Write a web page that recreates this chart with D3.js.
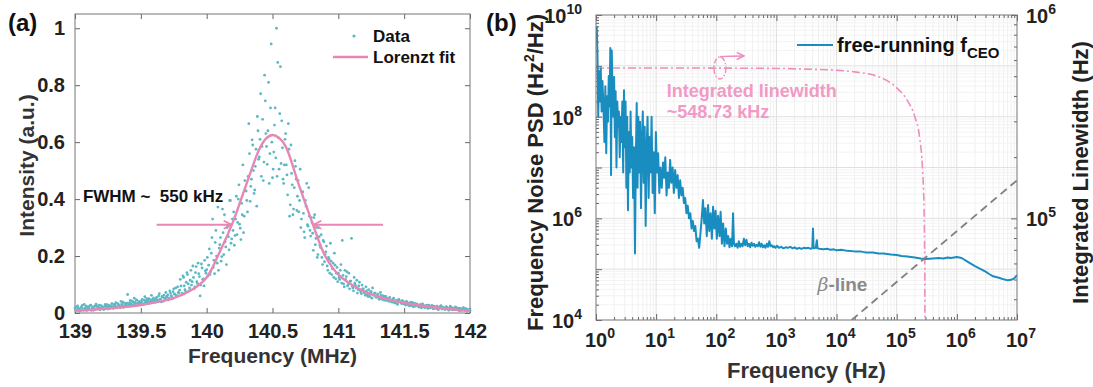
<!DOCTYPE html>
<html>
<head>
<meta charset="utf-8">
<script src="https://cdn.jsdelivr.net/npm/d3@7"></script>
<style>
	body { margin: 0; background: #fff; }
	svg { font-family: "Liberation Sans", Arial, sans-serif; font-weight: bold; }
	.axis path { display: none; }
	.axis line { stroke: #666; }
	.axis text { fill: #222; font-size: 20px; font-weight: bold; font-family: "Liberation Sans", Arial, sans-serif; }
</style>
</head>
<body>
<svg id="chart" width="1093" height="387"></svg>
<script>
// ---------- panel (a): beat note spectrum ----------
// two interleaved sweeps: x = start + i * step
const scatterStep = 0.01;
const scatterStart = 139;
const scatterY = [
	0.018, 0.010, 0.025, 0.014, 0.008, 0.020, 0.012, 0.030, 0.016, 0.009,
	0.022, 0.013, 0.028, 0.017, 0.010, 0.024, 0.031, 0.015, 0.020, 0.011,
	0.026, 0.018, 0.012, 0.030, 0.021, 0.014, 0.027, 0.019, 0.033, 0.016,
	0.024, 0.036, 0.018, 0.029, 0.022, 0.041, 0.027, 0.020, 0.034, 0.025,
	0.065, 0.030, 0.044, 0.026, 0.038, 0.052, 0.033, 0.045, 0.028, 0.040,
	0.035, 0.048, 0.031, 0.057, 0.042, 0.036, 0.050, 0.039, 0.062, 0.044,
	0.047, 0.038, 0.055, 0.043, 0.068, 0.049, 0.058, 0.041, 0.052, 0.072,
	0.056, 0.046, 0.078, 0.061, 0.050, 0.085, 0.066, 0.058, 0.092, 0.070,
	0.118, 0.064, 0.130, 0.095, 0.075, 0.142, 0.102, 0.088, 0.150, 0.110,
	0.125, 0.092, 0.163, 0.104, 0.138, 0.060, 0.172, 0.118, 0.095, 0.148,
	0.152, 0.130, 0.225, 0.145, 0.265, 0.160, 0.138, 0.290, 0.175, 0.150,
	0.240, 0.182, 0.365, 0.205, 0.250, 0.170, 0.305, 0.222, 0.395, 0.260,
	0.290, 0.238, 0.330, 0.275, 0.400, 0.312, 0.258, 0.345, 0.282, 0.465,
	0.428, 0.355, 0.665, 0.392, 0.470, 0.590, 0.420, 0.515, 0.375, 0.640,
	0.548, 0.770, 0.585, 0.465, 0.835, 0.630, 0.522, 0.810, 0.560, 0.945,
	0.475, 0.565, 0.720, 1.000, 0.880, 0.505, 0.865, 0.675, 0.470, 0.520,
	0.630, 0.485, 0.665, 0.340, 0.590, 0.450, 0.365, 0.535, 0.470, 0.410,
	0.355, 0.505, 0.330, 0.425, 0.285, 0.395, 0.455, 0.305, 0.340, 0.270,
	0.318, 0.220, 0.345, 0.262, 0.195, 0.300, 0.238, 0.275, 0.170, 0.250,
	0.205, 0.235, 0.150, 0.188, 0.245, 0.135, 0.175, 0.210, 0.120, 0.160,
	0.140, 0.118, 0.170, 0.255, 0.102, 0.150, 0.128, 0.095, 0.140, 0.112,
	0.262, 0.088, 0.125, 0.098, 0.115, 0.082, 0.108, 0.075, 0.098, 0.085,
	0.070, 0.092, 0.065, 0.082, 0.058, 0.075, 0.088, 0.062, 0.070, 0.055,
	0.066, 0.048, 0.072, 0.052, 0.060, 0.045, 0.058, 0.050, 0.042, 0.055,
	0.046, 0.038, 0.052, 0.035, 0.044, 0.030, 0.048, 0.040, 0.033, 0.042,
	0.036, 0.028, 0.040, 0.032, 0.025, 0.038, 0.030, 0.022, 0.034, 0.027,
	0.030, 0.021, 0.026, 0.018, 0.032, 0.024, 0.020, 0.028, 0.016, 0.025,
	0.020, 0.027, 0.015, 0.022, 0.018, 0.024, 0.012, 0.020, 0.026, 0.014,
	0.019, 0.012, 0.022, 0.016, 0.010, 0.024, 0.014, 0.018, 0.011, 0.021,
	0.013, 0.017, 0.008, 0.015, 0.011, 0.019, 0.009, 0.014, 0.007, 0.012,
	0.010
];
const scatterStart2 = 139.005;
const scatterY2 = [
	0.012, 0.022, 0.015, 0.006, 0.019, 0.027, 0.011, 0.017, 0.024, 0.014,
	0.018, 0.026, 0.009, 0.021, 0.016, 0.013, 0.025, 0.019, 0.028, 0.017,
	0.020, 0.014, 0.024, 0.017, 0.029, 0.022, 0.016, 0.025, 0.021, 0.030,
	0.028, 0.021, 0.033, 0.026, 0.019, 0.031, 0.038, 0.024, 0.029, 0.035,
	0.027, 0.036, 0.031, 0.042, 0.029, 0.037, 0.046, 0.034, 0.039, 0.031,
	0.041, 0.033, 0.045, 0.038, 0.050, 0.043, 0.034, 0.047, 0.040, 0.053,
	0.042, 0.051, 0.045, 0.060, 0.048, 0.039, 0.056, 0.063, 0.050, 0.058,
	0.064, 0.052, 0.070, 0.058, 0.075, 0.066, 0.088, 0.061, 0.072, 0.080,
	0.095, 0.070, 0.125, 0.082, 0.108, 0.135, 0.078, 0.115, 0.098, 0.165,
	0.085, 0.142, 0.110, 0.175, 0.128, 0.098, 0.158, 0.120, 0.185, 0.140,
	0.195, 0.168, 0.135, 0.210, 0.330, 0.185, 0.248, 0.200, 0.372, 0.228,
	0.265, 0.198, 0.282, 0.345, 0.232, 0.300, 0.268, 0.395, 0.245, 0.330,
	0.355, 0.272, 0.410, 0.318, 0.450, 0.298, 0.385, 0.520, 0.340, 0.430,
	0.395, 0.480, 0.560, 0.445, 0.608, 0.500, 0.432, 0.575, 0.690, 0.540,
	0.610, 0.480, 0.680, 0.530, 0.745, 0.585, 0.640, 0.455, 0.720, 0.600,
	0.505, 0.660, 0.545, 0.480, 0.615, 0.700, 0.525, 0.580, 0.455, 0.610,
	0.520, 0.415, 0.575, 0.380, 0.490, 0.345, 0.440, 0.515, 0.360, 0.465,
	0.395, 0.300, 0.425, 0.350, 0.265, 0.375, 0.310, 0.440, 0.290, 0.335,
	0.280, 0.335, 0.240, 0.300, 0.205, 0.268, 0.230, 0.195, 0.255, 0.180,
	0.215, 0.165, 0.195, 0.140, 0.182, 0.155, 0.125, 0.168, 0.140, 0.110,
	0.125, 0.150, 0.105, 0.132, 0.092, 0.118, 0.145, 0.100, 0.085, 0.112,
	0.095, 0.078, 0.105, 0.088, 0.070, 0.095, 0.080, 0.068, 0.085, 0.072,
	0.062, 0.078, 0.058, 0.068, 0.075, 0.052, 0.064, 0.070, 0.056, 0.061,
	0.056, 0.050, 0.062, 0.047, 0.053, 0.058, 0.044, 0.051, 0.046, 0.040,
	0.043, 0.048, 0.037, 0.041, 0.034, 0.045, 0.039, 0.036, 0.043, 0.032,
	0.034, 0.040, 0.029, 0.035, 0.031, 0.026, 0.036, 0.030, 0.024, 0.032,
	0.027, 0.023, 0.030, 0.021, 0.027, 0.019, 0.025, 0.022, 0.028, 0.018,
	0.022, 0.018, 0.024, 0.016, 0.021, 0.013, 0.019, 0.023, 0.015, 0.020,
	0.017, 0.014, 0.020, 0.012, 0.016, 0.019, 0.011, 0.015, 0.013, 0.018,
	0.014, 0.010, 0.016, 0.009, 0.013, 0.011, 0.015, 0.008, 0.012, 0.010
];
const fitFreq = [139, 139.25, 139.5, 139.75, 139.9, 140, 140.1, 140.2, 140.3, 140.4, 140.45, 140.5,
	140.55, 140.6, 140.7, 140.8, 140.9, 141, 141.1, 141.2, 141.4, 141.6, 141.8, 142];
const fitVal = [0.008, 0.016, 0.028, 0.052, 0.085, 0.125, 0.215, 0.32, 0.45, 0.575, 0.612, 0.625,
	0.615, 0.585, 0.45, 0.32, 0.2, 0.135, 0.1, 0.075, 0.045, 0.028, 0.016, 0.008];
const xTicksA = [139, 139.5, 140, 140.5, 141, 141.5, 142];
const yTicksA = [0, 0.2, 0.4, 0.6, 0.8, 1];

// ---------- panel (b): frequency noise PSD ----------
// [frequency (Hz), log10 of PSD (Hz^2/Hz)]
const psdCurve = [
	[1.00, 9.55], [1.03, 9.77], [1.06, 9.2], [1.09, 8.0], [1.12, 8.9], [1.16, 8.3], [1.20, 8.95],
	[1.24, 8.1], [1.28, 8.7], [1.33, 8.2], [1.38, 7.5], [1.43, 8.6], [1.48, 7.28], [1.53, 8.4],
	[1.58, 7.9], [1.63, 8.8], [1.68, 8.2], [1.73, 9.35], [1.78, 6.85], [1.83, 9.3], [1.88, 8.5],
	[1.94, 8.0], [2.00, 8.78], [2.06, 7.6], [2.12, 8.5], [2.19, 7.0], [2.26, 8.3], [2.33, 7.8],
	[2.40, 8.1], [2.48, 7.2], [2.56, 8.0], [2.65, 7.5], [2.74, 8.3], [2.83, 6.9], [2.92, 8.52],
	[3.01, 7.4], [3.10, 8.3], [3.20, 6.6], [3.30, 8.0], [3.40, 6.16], [3.52, 7.7], [3.64, 6.9],
	[3.76, 8.1], [3.88, 7.0], [4.00, 7.6], [4.14, 6.4], [4.28, 7.4], [4.45, 5.31], [4.60, 7.2],
	[4.75, 8.27], [4.90, 6.6], [5.05, 8.0], [5.20, 6.9], [5.40, 7.9], [5.60, 6.2], [5.80, 7.5],
	[6.00, 8.1], [6.20, 6.7], [6.45, 7.8], [6.70, 5.85], [6.95, 7.4], [7.20, 8.0], [7.50, 6.4],
	[7.80, 7.6], [8.10, 6.9], [8.40, 8.0], [8.75, 6.5], [9.10, 7.3], [9.50, 6.1], [9.90, 7.7],
	[10.3, 6.9], [10.8, 7.28], [11.3, 6.5], [11.8, 7.0], [12.4, 6.6], [13.0, 7.1], [13.6, 6.8],
	[14.2, 7.2], [14.9, 6.45], [15.6, 6.9], [16.3, 6.6], [17.1, 7.15], [17.9, 6.7], [18.8, 7.0],
	[19.7, 6.5], [20.7, 6.95], [21.7, 6.6], [22.8, 6.85], [23.9, 6.4], [25.1, 6.75], [26.3, 6.45],
	[27.6, 6.6], [29.0, 6.3], [30.4, 6.4], [31.9, 6.1], [33.5, 6.25], [35.2, 6.0], [37.0, 6.1],
	[38.8, 5.8], [40.7, 5.95], [42.7, 5.75], [44.8, 5.85], [47.0, 5.55], [49.4, 5.6], [51.9, 5.42],
	[54.5, 5.7], [57.2, 6.0], [60.0, 6.36], [63.0, 5.9], [66.0, 6.2], [69.5, 5.65], [73.0, 6.26],
	[76.5, 5.75], [80.5, 6.1], [84.5, 5.6], [88.5, 6.23], [93.0, 5.8], [97.5, 6.15], [102, 5.6],
	[107, 6.05], [113, 5.65], [118, 6.13], [124, 5.5], [130, 5.9], [137, 5.45], [144, 5.8],
	[151, 5.5], [158, 5.65], [166, 5.43], [174, 5.6], [183, 5.45], [190, 6.1], [197, 5.5],
	[205, 5.45], [215, 5.5], [226, 5.42], [237, 5.55], [249, 5.44], [261, 5.5], [274, 5.45],
	[288, 5.6], [302, 5.47], [317, 5.58], [333, 5.45], [350, 5.5], [367, 5.43], [385, 5.52],
	[404, 5.46], [424, 5.5], [445, 5.44], [468, 5.48], [491, 5.45], [515, 5.53], [541, 5.44],
	[568, 5.5], [597, 5.43], [627, 5.47], [658, 5.42], [691, 5.5], [725, 5.44], [761, 5.55],
	[800, 5.45], [840, 5.47], [882, 5.43], [925, 5.45], [970, 5.42], [1020, 5.46], [1100, 5.42],
	[1200, 5.44], [1300, 5.41], [1420, 5.43], [1550, 5.42], [1700, 5.44], [1850, 5.41], [2000, 5.43],
	[2200, 5.40], [2400, 5.42], [2600, 5.40], [2850, 5.42], [3100, 5.41], [3400, 5.42], [3750, 5.40],
	[3950, 5.42], [4050, 5.80], [4150, 5.41], [4500, 5.42], [4700, 5.57], [4800, 5.41], [5200, 5.40],
	[6000, 5.39], [7000, 5.40], [8000, 5.38], [9000, 5.39], [1e4, 5.37], [1.2e4, 5.38], [1.5e4, 5.36],
	[2e4, 5.35], [2.5e4, 5.35], [3e4, 5.33], [4e4, 5.33], [5e4, 5.31], [6e4, 5.31], [8e4, 5.29],
	[1e5, 5.28], [1.2e5, 5.26], [1.5e5, 5.25], [2e5, 5.23], [2.5e5, 5.21], [3e5, 5.2], [4e5, 5.21],
	[5e5, 5.22], [6e5, 5.21], [7e5, 5.23], [8e5, 5.22], [1e6, 5.24], [1.2e6, 5.22], [1.5e6, 5.15],
	[2e6, 5.06], [2.5e6, 5.0], [3e6, 4.95], [3.5e6, 4.9], [4e6, 4.86], [5e6, 4.83], [6e6, 4.8],
	[7e6, 4.78], [8e6, 4.79], [9e6, 4.82], [1e7, 4.88]
];
const intFreq = [1, 10, 100, 1e3, 3e3, 1e4, 2e4, 5e4, 1e5, 1.5e5, 2e5, 2.4e5, 2.7e5, 2.85e5, 2.92e5, 2.96e5];
const intVal = [549e3, 549e3, 548e3, 546e3, 542e3, 535e3, 525e3, 497e3, 438e3, 380e3, 316e3, 250e3, 170e3, 110e3, 62e3, 2e4];
const betaFreq = [1.78e4, 1e7];
const betaVal = [1e4, 5.6e6];

const svg = d3.select('#chart');
const defs = svg.append('defs');

function arrowMarker(id, color, size) {
	defs.append('marker').attr('id', id)
		.attr('viewBox', '0 0 10 10').attr('refX', 9).attr('refY', 5)
		.attr('markerWidth', size).attr('markerHeight', size).attr('markerUnits', 'userSpaceOnUse')
		.attr('orient', 'auto')
		.append('path').attr('d', 'M1,1 L9,5 L1,9').attr('fill', 'none')
		.attr('stroke', color).attr('stroke-width', 1.8);
}
arrowMarker('pinkHead', '#e887b3', 10);
arrowMarker('pinkHeadB', '#ef8dbf', 9);

// ================= panel (a) =================
const A = { left: 75, right: 470, top: 14, bottom: 313 };
const xA = d3.scaleLinear().domain([139, 142]).range([A.left, A.right]);
const yA = d3.scaleLinear().domain([0, 1.05]).range([A.bottom, A.top]);
const fmtA = d3.format('~g');

svg.append('g').attr('class', 'axis').attr('transform', `translate(0,${A.bottom})`)
	.call(d3.axisBottom(xA).tickValues(xTicksA).tickSize(-5).tickSizeOuter(0).tickPadding(11).tickFormat(fmtA));
svg.append('g').attr('class', 'axis').attr('transform', `translate(0,${A.top})`)
	.call(d3.axisTop(xA).tickValues(xTicksA).tickSize(-5).tickSizeOuter(0).tickFormat(''));
svg.append('g').attr('class', 'axis').attr('transform', `translate(${A.left},0)`)
	.call(d3.axisLeft(yA).tickValues(yTicksA).tickSize(-5).tickSizeOuter(0).tickPadding(10).tickFormat(fmtA));
svg.append('g').attr('class', 'axis').attr('transform', `translate(${A.right},0)`)
	.call(d3.axisRight(yA).tickValues(yTicksA).tickSize(-5).tickSizeOuter(0).tickFormat(''));

svg.append('rect')
	.attr('x', A.left).attr('y', A.top)
	.attr('width', A.right - A.left).attr('height', A.bottom - A.top)
	.attr('fill', 'none').attr('stroke', '#777');

const dots = svg.append('g').attr('fill', '#5bb8c4');
dots.selectAll('circle.s1')
	.data(scatterY)
	.join('circle')
	.attr('cx', (d, i) => xA(scatterStart + i * scatterStep))
	.attr('cy', d => yA(d))
	.attr('r', 1.4);
dots.selectAll('circle.s2')
	.data(scatterY2)
	.join('circle')
	.attr('cx', (d, i) => xA(scatterStart2 + i * scatterStep))
	.attr('cy', d => yA(d))
	.attr('r', 1.4);

const fitLine = d3.line()
	.x((d, i) => xA(fitFreq[i]))
	.y(d => yA(d))
	.curve(d3.curveCatmullRom.alpha(0.5));

svg.append('path')
	.attr('d', fitLine(fitVal))
	.attr('fill', 'none').attr('stroke', '#e887b3').attr('stroke-width', 2.4);

// FWHM arrows
svg.append('line')
	.attr('x1', xA(139.62)).attr('x2', xA(140.19))
	.attr('y1', yA(0.31)).attr('y2', yA(0.31))
	.attr('stroke', '#e887b3').attr('stroke-width', 2).attr('marker-end', 'url(#pinkHead)');
svg.append('line')
	.attr('x1', xA(141.34)).attr('x2', xA(140.81))
	.attr('y1', yA(0.31)).attr('y2', yA(0.31))
	.attr('stroke', '#e887b3').attr('stroke-width', 2).attr('marker-end', 'url(#pinkHead)');

svg.append('text')
	.attr('x', xA(139.06)).attr('y', yA(0.39))
	.attr('font-size', 17).attr('fill', '#111')
	.style('white-space', 'pre')
	.text('FWHM ~  550 kHz');

// legend (a)
svg.append('circle').attr('cx', 354).attr('cy', 36).attr('r', 1.6).attr('fill', '#5bb8c4');
svg.append('text').attr('x', 373).attr('y', 42).attr('font-size', 17).attr('fill', '#111').text('Data');
svg.append('line').attr('x1', 333).attr('x2', 368).attr('y1', 57).attr('y2', 57)
	.attr('stroke', '#e887b3').attr('stroke-width', 2.4);
svg.append('text').attr('x', 373).attr('y', 63).attr('font-size', 17).attr('fill', '#111').text('Lorenzt fit');

// axis titles (a)
svg.append('text').attr('x', 8).attr('y', 31).attr('font-size', 24).attr('fill', '#111').text('(a)');
svg.append('text')
	.attr('transform', `translate(34,${(A.top + A.bottom) / 2 + 2}) rotate(-90)`)
	.attr('text-anchor', 'middle').attr('font-size', 21).attr('fill', '#333')
	.text('Intensity (a.u.)');
svg.append('text')
	.attr('x', (A.left + A.right) / 2).attr('y', 363)
	.attr('text-anchor', 'middle').attr('font-size', 21).attr('fill', '#333')
	.text('Frequency (MHz)');

// ================= panel (b) =================
const B = { left: 596, right: 1017, top: 15, bottom: 320 };
const xB = d3.scaleLog().domain([1, 1e7]).range([B.left, B.right]);
const yB = d3.scaleLog().domain([1e4, 1e10]).range([B.bottom, B.top]);
const yR = d3.scaleLog().domain([3.1623e4, 1e6]).range([B.bottom, B.top]);

function decades(lo, hi) {
	return d3.range(lo, hi + 1).map(e => Math.pow(10, e));
}
function minors(lo, hi) {
	const out = [];
	for (let e = lo; e < hi; e++)
		for (let m = 2; m <= 9; m++) out.push(m * Math.pow(10, e));
	return out;
}

// grid
const grid = svg.append('g');
grid.selectAll('line.vminor').data(minors(0, 7)).join('line')
	.attr('x1', d => xB(d)).attr('x2', d => xB(d)).attr('y1', B.top).attr('y2', B.bottom)
	.attr('stroke', '#f0f0f0');
grid.selectAll('line.hminor').data(minors(4, 10)).join('line')
	.attr('y1', d => yB(d)).attr('y2', d => yB(d)).attr('x1', B.left).attr('x2', B.right)
	.attr('stroke', '#f3f3f3');
grid.selectAll('line.vmajor').data(decades(1, 6)).join('line')
	.attr('x1', d => xB(d)).attr('x2', d => xB(d)).attr('y1', B.top).attr('y2', B.bottom)
	.attr('stroke', '#e0e0e0');
grid.selectAll('line.hmajor').data(decades(5, 9)).join('line')
	.attr('y1', d => yB(d)).attr('y2', d => yB(d)).attr('x1', B.left).attr('x2', B.right)
	.attr('stroke', '#e0e0e0');

// ticks (inward, MATLAB style)
const tickG = svg.append('g').attr('class', 'axis');
tickG.append('g').attr('transform', `translate(0,${B.bottom})`)
	.call(d3.axisBottom(xB).tickValues(decades(0, 7)).tickSize(-6).tickSizeOuter(0).tickFormat(''));
tickG.append('g').attr('transform', `translate(0,${B.bottom})`)
	.call(d3.axisBottom(xB).tickValues(minors(0, 7)).tickSize(-3).tickSizeOuter(0).tickFormat(''));
tickG.append('g').attr('transform', `translate(0,${B.top})`)
	.call(d3.axisTop(xB).tickValues(decades(0, 7)).tickSize(-6).tickSizeOuter(0).tickFormat(''));
tickG.append('g').attr('transform', `translate(0,${B.top})`)
	.call(d3.axisTop(xB).tickValues(minors(0, 7)).tickSize(-3).tickSizeOuter(0).tickFormat(''));
tickG.append('g').attr('transform', `translate(${B.left},0)`)
	.call(d3.axisLeft(yB).tickValues(decades(4, 10)).tickSize(-6).tickSizeOuter(0).tickFormat(''));
tickG.append('g').attr('transform', `translate(${B.left},0)`)
	.call(d3.axisLeft(yB).tickValues(minors(4, 10)).tickSize(-3).tickSizeOuter(0).tickFormat(''));
tickG.append('g').attr('transform', `translate(${B.right},0)`)
	.call(d3.axisRight(yR).tickValues([1e5, 1e6]).tickSize(-6).tickSizeOuter(0).tickFormat(''));
tickG.append('g').attr('transform', `translate(${B.right},0)`)
	.call(d3.axisRight(yR).tickValues(minors(4, 6).filter(v => v >= 3.2e4)).tickSize(-3).tickSizeOuter(0).tickFormat(''));

// 10^n labels
function powLabel(sel, exp) {
	sel.append('tspan').text('10');
	sel.append('tspan').attr('dy', -9).attr('font-size', 14).text(exp);
}
const labG = svg.append('g').attr('fill', '#222').attr('font-size', 20);
d3.range(0, 8).forEach(e => {
	labG.append('text')
		.attr('x', xB(Math.pow(10, e)) + 4).attr('y', 347)
		.attr('text-anchor', 'middle')
		.call(powLabel, e);
});
[4, 6, 8, 10].forEach(e => {
	labG.append('text')
		.attr('x', B.left - 14).attr('y', yB(Math.pow(10, e)) + 8)
		.attr('text-anchor', 'end')
		.call(powLabel, e);
});
[5, 6].forEach(e => {
	labG.append('text')
		.attr('x', B.right + 9).attr('y', yR(Math.pow(10, e)) + 8)
		.call(powLabel, e);
});

// curves
defs.append('clipPath').attr('id', 'clipB')
	.append('rect').attr('x', B.left).attr('y', B.top)
	.attr('width', B.right - B.left).attr('height', B.bottom - B.top);
const plotB = svg.append('g').attr('clip-path', 'url(#clipB)');

const intLine = d3.line()
	.x((d, i) => xB(intFreq[i]))
	.y(d => yR(d))
	.curve(d3.curveMonotoneX);
plotB.append('path')
	.attr('d', intLine(intVal))
	.attr('fill', 'none').attr('stroke', '#ef8dbf').attr('stroke-width', 1.6)
	.attr('stroke-dasharray', '8,3,2,3');

const psdLine = d3.line()
	.x(d => xB(d[0]))
	.y(d => yB(Math.pow(10, d[1])));
plotB.append('path')
	.attr('d', psdLine(psdCurve))
	.attr('fill', 'none').attr('stroke', '#1a8dc0').attr('stroke-width', 2)
	.attr('stroke-linejoin', 'round');

const betaLine = d3.line()
	.x((d, i) => xB(betaFreq[i]))
	.y(d => yB(d));
plotB.append('path')
	.attr('d', betaLine(betaVal))
	.attr('fill', 'none').attr('stroke', '#808080').attr('stroke-width', 1.8)
	.attr('stroke-dasharray', '8,5');

svg.append('rect')
	.attr('x', B.left).attr('y', B.top)
	.attr('width', B.right - B.left).attr('height', B.bottom - B.top)
	.attr('fill', 'none').attr('stroke', '#777');

// ellipse + arrow marking the right-axis curve
const ex = xB(115), ey = yR(549e3);
svg.append('ellipse')
	.attr('cx', ex).attr('cy', ey).attr('rx', 6).attr('ry', 11)
	.attr('fill', 'none').attr('stroke', '#ef8dbf').attr('stroke-width', 1.4)
	.attr('stroke-dasharray', '5,2,1.5,2');
svg.append('path')
	.attr('d', `M${ex},${ey - 11} Q${ex + 2},${ey - 12} ${ex + 24},${ey - 12}`)
	.attr('fill', 'none').attr('stroke', '#ef8dbf').attr('stroke-width', 1.6)
	.attr('marker-end', 'url(#pinkHeadB)');

svg.append('text')
	.attr('x', xB(15)).attr('y', 97)
	.attr('font-size', 18).attr('fill', '#f19ac5')
	.text('Integrated linewidth');
svg.append('text')
	.attr('x', xB(15)).attr('y', 118)
	.attr('font-size', 18).attr('fill', '#f19ac5')
	.text('~548.73 kHz');

const betaLabel = svg.append('text')
	.attr('x', xB(4800)).attr('y', 291)
	.attr('font-size', 19).attr('fill', '#8a8a8a');
betaLabel.append('tspan').attr('font-family', '"DejaVu Serif", serif').attr('font-style', 'italic').attr('font-weight', 'normal').text('β');
betaLabel.append('tspan').text('-line');

// legend (b)
svg.append('line').attr('x1', 797).attr('x2', 833).attr('y1', 45).attr('y2', 45)
	.attr('stroke', '#1a8dc0').attr('stroke-width', 2);
const legB = svg.append('text').attr('x', 837).attr('y', 52).attr('font-size', 20).attr('fill', '#111');
legB.append('tspan').text('free-running f');
legB.append('tspan').attr('dy', 6).attr('font-size', 15).text('CEO');

// titles (b)
svg.append('text').attr('x', 486).attr('y', 31).attr('font-size', 24).attr('fill', '#111').text('(b)');
const yTitle = svg.append('text')
	.attr('transform', `translate(543,${(B.top + B.bottom) / 2 + 5}) rotate(-90)`)
	.attr('text-anchor', 'middle').attr('font-size', 22).attr('fill', '#222');
yTitle.append('tspan').text('Frequency Noise PSD (Hz');
yTitle.append('tspan').attr('dy', -9).attr('font-size', 14).text('2');
yTitle.append('tspan').attr('dy', 9).text('/Hz)');
svg.append('text')
	.attr('transform', `translate(1088,${(B.top + B.bottom) / 2 + 5}) rotate(-90)`)
	.attr('text-anchor', 'middle').attr('font-size', 22).attr('fill', '#222')
	.text('Integrated Linewidth (Hz)');
svg.append('text')
	.attr('x', (B.left + B.right) / 2).attr('y', 378)
	.attr('text-anchor', 'middle').attr('font-size', 22).attr('fill', '#333')
	.text('Frequency (Hz)');
</script>
</body>
</html>
